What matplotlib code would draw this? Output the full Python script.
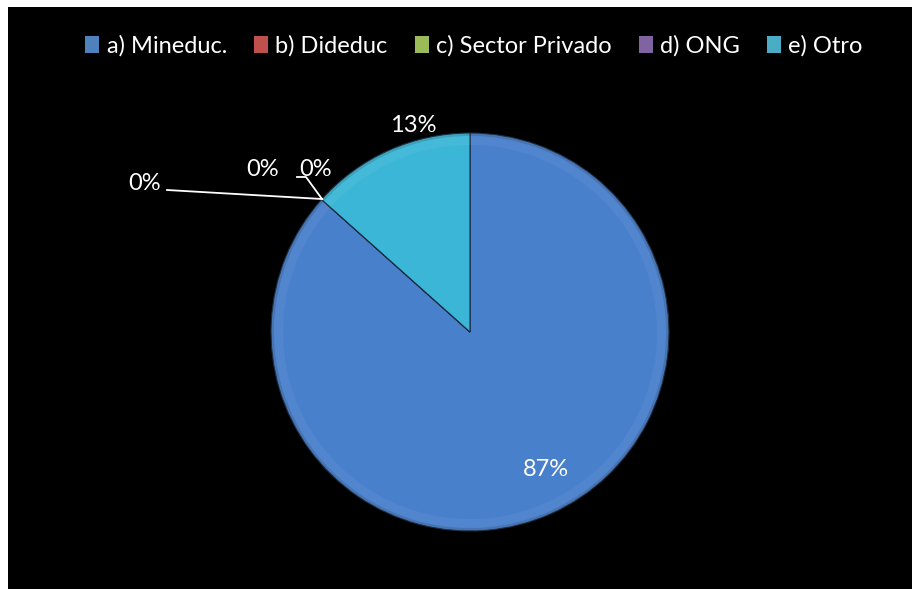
import matplotlib
matplotlib.use("Agg")
import matplotlib.pyplot as plt
from matplotlib.patches import Rectangle, Wedge

categories = ["a) Mineduc.", "b) Dideduc", "c) Sector Privado", "d) ONG", "e) Otro"]
values = [86.6, 0.0, 0.0, 0.0, 13.4]
pct_labels = ["87%", "0%", "0%", "0%", "13%"]
slice_colors = ["#4880CC", "#C0504D", "#9BBB59", "#8064A2", "#3BB6D6"]
legend_colors = ["#4F81BD", "#C0504D", "#9BBB59", "#8064A2", "#4BACC6"]

W, H = 918, 589
fig = plt.figure(figsize=(W / 100, H / 100), dpi=100)
fig.patch.set_facecolor("white")
ax = fig.add_axes([0, 0, 1, 1])

# black chart area
ax.add_patch(Rectangle((8, 0), W - 14, H - 7, facecolor="black", edgecolor="none", zorder=0))

font = "Lato"
fs = 17
cx, cy, r = 470, H - 332, 199
wedges, _ = ax.pie(values, colors=slice_colors, startangle=90, counterclock=False,
                   center=(cx, cy), radius=r, frame=True,
                   wedgeprops=dict(edgecolor="#1a2a40", linewidth=0.8))
ax.set_xlim(0, W)
ax.set_ylim(0, H)
ax.set_aspect("equal")
ax.axis("off")

# subtle bevel shading near rim
for w in wedges:
    if w.theta2 - w.theta1 < 0.5:
        continue
    ax.add_patch(Wedge((cx, cy), r, w.theta1, w.theta2, width=12,
                       facecolor="white", alpha=0.05, edgecolor="none", zorder=3))
    ax.add_patch(Wedge((cx, cy), r, w.theta1, w.theta2, width=3,
                       facecolor="black", alpha=0.12, edgecolor="none", zorder=3))

# percentage labels (positions are layout)
label_pos = {0: (546, 470), 1: (145, 183), 2: (263, 170), 3: (316, 170), 4: (413, 126)}
for i, (x, y) in label_pos.items():
    ax.text(x, H - y, pct_labels[i], color="white", fontsize=fs, family=font,
            ha="center", va="center", zorder=5)

# leader lines
ax.plot([167, 322], [H - 190, H - 199], color="white", lw=1.3, zorder=5)
ax.plot([297, 306, 322], [H - 177, H - 177, H - 199], color="white", lw=1.3, zorder=5)

# legend
handles = [Rectangle((0, 0), 1, 1, facecolor=c, edgecolor="none") for c in legend_colors]
leg = fig.legend(handles, categories, loc="center", bbox_to_anchor=(474 / W, 1 - 46 / H),
                 ncol=5, frameon=False, handlelength=0.6, handleheight=0.75,
                 handletextpad=0.3, columnspacing=1.15, prop={"family": font, "size": fs})
for t in leg.get_texts():
    t.set_color("white")

fig.savefig("out.png", dpi=100, facecolor=fig.get_facecolor())
